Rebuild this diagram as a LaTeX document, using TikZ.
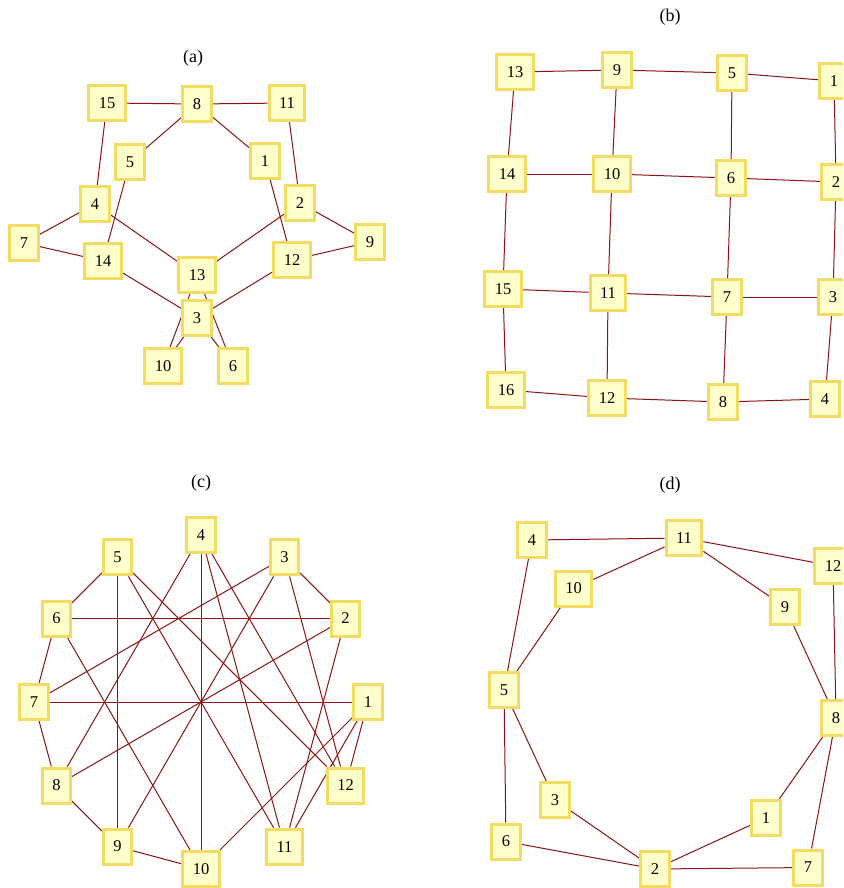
\documentclass[tikz,border=0pt]{standalone}
\usepackage{fontspec}
\setmainfont{Liberation Serif}
\usetikzlibrary{backgrounds}
\definecolor{nodefill}{RGB}{255,255,204}
\definecolor{nodeborder}{RGB}{242,220,100}
\definecolor{edgecol}{RGB}{140,20,20}
\begin{document}
\begin{tikzpicture}[x=1pt,y=-1pt,
  vtx/.style={draw=nodeborder, fill=nodefill, line width=3pt, minimum height=35pt,
    inner xsep=10pt, inner ysep=0pt, font=\fontsize{16.5}{18}\selectfont},
  lnk/.style={draw=edgecol, line width=1pt},
  ttl/.style={font=\fontsize{18}{20}\selectfont}]
\useasboundingbox (0,0) rectangle (843,888);
\clip (0,0) rectangle (843,888);
% titles
\node[ttl] (ta) at (193,58) {(a)};
\node[ttl] (tb) at (670,17) {(b)};
\node[ttl] (tc) at (201,483) {(c)};
\node[ttl] (td) at (670,485) {(d)};
% panel (a)
\node[vtx] (a15) at (107,103) {15};
\node[vtx] (a8) at (197,104) {8};
\node[vtx] (a11) at (287,103) {11};
\node[vtx] (a5) at (130,162) {5};
\node[vtx] (a1) at (265,161) {1};
\node[vtx] (a4) at (95,204) {4};
\node[vtx] (a2) at (300,203) {2};
\node[vtx] (a7) at (24,243) {7};
\node[vtx] (a9) at (370,242) {9};
\node[vtx] (a14) at (103,261) {14};
\node[vtx] (a12) at (292,260) {12};
\node[vtx] (a13) at (197,275) {13};
\node[vtx] (a3) at (197,318) {3};
\node[vtx] (a10) at (163,366) {10};
\node[vtx] (a6) at (233,366) {6};
% panel (b)
\node[vtx] (b13) at (515,72) {13};
\node[vtx] (b9) at (617,70) {9};
\node[vtx] (b5) at (732,73) {5};
\node[vtx] (b1) at (834,81) {1};
\node[vtx] (b14) at (507,174) {14};
\node[vtx] (b10) at (612,174) {10};
\node[vtx] (b6) at (731,178) {6};
\node[vtx] (b2) at (836,182) {2};
\node[vtx] (b15) at (503,289) {15};
\node[vtx] (b11) at (608,293) {11};
\node[vtx] (b7) at (727,297) {7};
\node[vtx] (b3) at (833,297) {3};
\node[vtx] (b16) at (506,390) {16};
\node[vtx] (b12) at (607,398) {12};
\node[vtx] (b8) at (723,402) {8};
\node[vtx] (b4) at (825,399) {4};
% panel (c)
\node[vtx] (c1) at (368,702) {1};
\node[vtx] (c2) at (345.6,618.5) {2};
\node[vtx] (c3) at (284.5,557.4) {3};
\node[vtx] (c4) at (201,535) {4};
\node[vtx] (c5) at (117.5,557.4) {5};
\node[vtx] (c6) at (56.4,618.5) {6};
\node[vtx] (c7) at (34,702) {7};
\node[vtx] (c8) at (56.4,785.5) {8};
\node[vtx] (c9) at (117.5,846.6) {9};
\node[vtx] (c10) at (201,869) {10};
\node[vtx] (c11) at (284.5,846.6) {11};
\node[vtx] (c12) at (345.6,785.5) {12};
% panel (d)
\node[vtx] (d4) at (532,540) {4};
\node[vtx] (d11) at (684,538) {11};
\node[vtx] (d12) at (833,566) {12};
\node[vtx] (d10) at (573.5,588.5) {10};
\node[vtx] (d9) at (785,607) {9};
\node[vtx] (d5) at (504,690) {5};
\node[vtx] (d8) at (836,718) {8};
\node[vtx] (d3) at (555,800) {3};
\node[vtx] (d1) at (766,818) {1};
\node[vtx] (d6) at (506,841.5) {6};
\node[vtx] (d2) at (655,869) {2};
\node[vtx] (d7) at (808,867.5) {7};
\begin{pgfonlayer}{background}
\fill[white] (0,0) rectangle (843,888);
\foreach \u/\v in {15/8, 8/11, 8/5, 8/1, 15/4, 11/2, 4/7, 7/14, 5/14, 4/13, 2/13, 2/9, 9/12, 1/12, 14/3, 12/3, 13/10, 13/6, 3/10, 3/6}
  \draw[lnk] (a\u) -- (a\v);
\foreach \u/\v in {13/9, 9/5, 5/1, 13/14, 9/10, 5/6, 1/2, 14/10, 10/6, 6/2, 14/15, 10/11, 6/7, 2/3, 15/11, 11/7, 7/3, 15/16, 11/12, 7/8, 3/4, 16/12, 12/8, 8/4}
  \draw[lnk] (b\u) -- (b\v);
\foreach \u/\v in {4/8, 4/10, 4/11, 4/12, 5/6, 5/9, 5/11, 5/12, 3/7, 3/9, 3/12, 3/2, 6/2, 6/7, 6/10, 2/8, 2/11, 7/1, 7/8, 1/10, 1/11, 1/12, 8/9, 9/10}
  \draw[lnk] (c\u) -- (c\v);
\foreach \u/\v in {4/11, 11/12, 11/10, 11/9, 4/5, 10/5, 12/8, 9/8, 5/6, 5/3, 8/1, 8/7, 3/2, 6/2, 1/2, 2/7}
  \draw[lnk] (d\u) -- (d\v);
\end{pgfonlayer}
\end{tikzpicture}
\end{document}
